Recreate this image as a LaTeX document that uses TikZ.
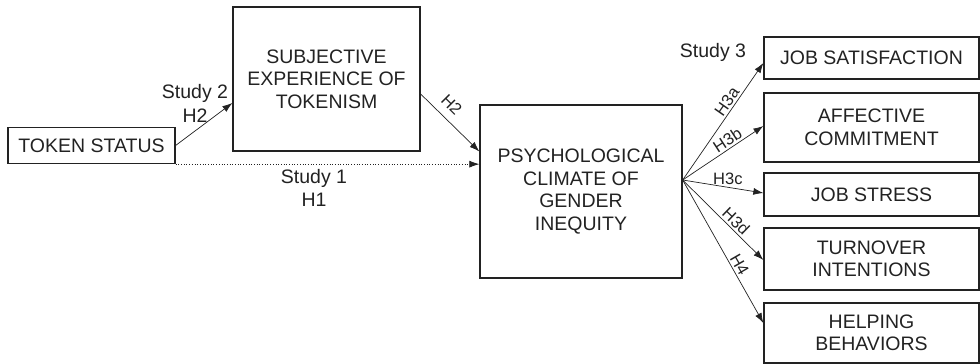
\documentclass[tikz,border=0pt]{standalone}
\usepackage{fontspec}
\setmainfont{Liberation Sans}
\usetikzlibrary{arrows.meta}
\definecolor{ink}{HTML}{222222}
\begin{document}
\begin{tikzpicture}[x=1pt,y=-1pt,
  font=\fontsize{19.5}{22.5}\selectfont,
  every node/.style={text=ink},
  box/.style={draw=ink,line width=1.3pt,inner sep=0pt,align=center},
  conn/.style={draw=ink,line width=0.7pt,-{Latex[length=10pt,width=7pt]}},
  lbl/.style={font=\fontsize{16.5}{19}\selectfont,inner sep=2pt,anchor=south},
  txt/.style={align=center,inner sep=0pt}]
\useasboundingbox (0,0) rectangle (980,364);
\node[box,minimum width=167pt,minimum height=36pt] (tok) at (91.5,145.5) {TOKEN STATUS};
\node[box,minimum width=187pt,minimum height=144pt] (subj) at (326.5,79) {SUBJECTIVE\\EXPERIENCE OF\\TOKENISM};
\node[box,minimum width=202pt,minimum height=173pt] (psych) at (581,191.5) {PSYCHOLOGICAL\\CLIMATE OF\\GENDER\\INEQUITY};
\node[box,minimum width=215pt,minimum height=42pt] (js) at (871.5,58) {JOB SATISFACTION};
\node[box,minimum width=215pt,minimum height=69pt] (ac) at (871.5,127.5) {AFFECTIVE\\COMMITMENT};
\node[box,minimum width=215pt,minimum height=43pt] (st) at (871.5,194.5) {JOB STRESS};
\node[box,minimum width=215pt,minimum height=62pt] (tu) at (871.5,259) {TURNOVER\\INTENTIONS};
\node[box,minimum width=215pt,minimum height=60pt] (he) at (871.5,333) {HELPING\\BEHAVIORS};

\node[txt,font=\fontsize{19.5}{24}\selectfont] (s2) at (195,103) {Study 2\\H2};
\node[txt] (s1) at (314,188) {Study 1\\H1};
\node[txt] (s3) at (713,52) {Study 3};

\draw[conn] (tok.east) -- ([yshift=-24pt]subj.west);
\draw[conn] ([yshift=-15pt]subj.east) -- node[lbl,pos=0.36,rotate=-45,inner sep=8pt] {H2} ([yshift=40pt]psych.west);
\draw[conn,dotted] (tok.south east) -- (tok.south east -| psych.west);

\coordinate (fan) at ([yshift=11.5pt]psych.east);
\draw[conn] (fan) -- node[lbl,pos=0.63,rotate=55] {H3a} ([yshift=-5pt]js.west);
\draw[conn] (fan) -- node[lbl,pos=0.61,rotate=33] {H3b} ([yshift=1.5pt]ac.west);
\draw[conn] (fan) -- node[lbl,pos=0.56] {H3c} ([yshift=1.5pt]st.west);
\draw[conn] (fan) -- node[lbl,pos=0.59,rotate=-44] {H3d} ([yshift=-1pt]tu.west);
\draw[conn] (fan) -- node[lbl,pos=0.62,rotate=-60] {H4} ([yshift=10pt]he.west);
\end{tikzpicture}
\end{document}
